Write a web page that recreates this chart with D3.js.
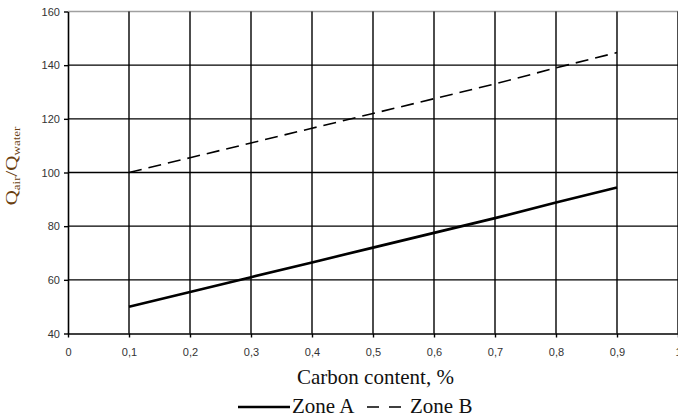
<!DOCTYPE html>
<html><head><meta charset="utf-8">
<script src="https://cdn.jsdelivr.net/npm/d3@7"></script>
<style>html,body{margin:0;padding:0;background:#fff;overflow:hidden}</style>
</head><body><svg id="c" width="678" height="418"></svg>
<script>
const carbon = [0.1, 0.2, 0.3, 0.4, 0.5, 0.6, 0.7, 0.8, 0.9];
const zoneA = [50, 55.5, 61, 66.5, 72, 77.5, 83, 88.8, 94.4];
const zoneB = [100, 105.5, 111, 116.5, 122, 127.5, 133, 139, 144.7];
const xTicks = [0, 0.1, 0.2, 0.3, 0.4, 0.5, 0.6, 0.7, 0.8, 0.9, 1];
const yTicks = [40, 60, 80, 100, 120, 140, 160];
const seriesNames = ["Zone A", "Zone B"];

const svg = d3.select("#c");
const x = d3.scaleLinear().domain([0, 1]).range([68, 678]);
const y = d3.scaleLinear().domain([40, 160]).range([333.5, 11.5]);

// horizontal grid
svg.append("g").selectAll("line").data(yTicks.filter(v => v > 40)).join("line")
  .attr("x1", x(0)).attr("x2", 678).attr("y1", d => y(d)).attr("y2", d => y(d))
  .attr("stroke", d => d === 160 ? "#a0a0a0" : "#000").attr("stroke-width", 1.4);
// vertical grid
svg.append("g").selectAll("line").data(xTicks.filter(v => v > 0)).join("line")
  .attr("x1", d => x(d)).attr("x2", d => x(d)).attr("y1", y(160)).attr("y2", y(40))
  .attr("stroke", "#000").attr("stroke-width", 1.4);

// axes
const xAxis = svg.append("g").attr("transform", `translate(0,${y(40)})`)
  .call(d3.axisBottom(x).tickValues(xTicks).tickSize(4).tickSizeOuter(0)
    .tickFormat(d => d === 0 ? "0" : d === 1 ? "1" : d3.format(".1f")(d).replace(".", ",")));
const yAxis = svg.append("g").attr("transform", `translate(${x(0)},0)`)
  .call(d3.axisLeft(y).tickValues(yTicks).tickSize(4).tickSizeOuter(0));
[xAxis, yAxis].forEach(g => {
  g.select(".domain").attr("stroke", "#000").attr("stroke-width", 1.6);
  g.selectAll(".tick line").attr("stroke", "#000").attr("stroke-width", 1.4);
  g.selectAll("text").attr("font-family", "Liberation Sans, Arial, sans-serif")
    .attr("font-size", 11).attr("fill", "#333");
});
xAxis.selectAll("text").attr("dy", "1.4em");
yAxis.selectAll("text").attr("dx", "-0.1em");

// lines
const line = d3.line().x(d => x(d[0])).y(d => y(d[1]));
svg.append("path").datum(carbon.map((c, i) => [c, zoneA[i]]))
  .attr("d", line).attr("fill", "none").attr("stroke", "#000").attr("stroke-width", 2.6);
svg.append("path").datum(carbon.map((c, i) => [c, zoneB[i]]))
  .attr("d", line).attr("fill", "none").attr("stroke", "#000").attr("stroke-width", 1.6)
  .attr("stroke-dasharray", "13,7");

// axis titles
svg.append("text").attr("x", 297).attr("y", 384)
  .attr("font-family", "Liberation Serif, Times New Roman, serif").attr("font-size", 21)
  .attr("fill", "#111").text("Carbon content, %");

const yl = svg.append("text").attr("transform", "translate(17,166) scale(0.75,1) rotate(-90)")
  .attr("text-anchor", "middle").attr("font-family", "Liberation Serif, Times New Roman, serif")
  .attr("font-size", 21).attr("fill", "#6a4010");
yl.append("tspan").text("Q");
yl.append("tspan").attr("font-size", 13).attr("dy", 4).text("air");
yl.append("tspan").attr("dy", -4).text("/Q");
yl.append("tspan").attr("font-size", 13).attr("dy", 4).text("water");

// legend
const lg = svg.append("g").attr("font-family", "Liberation Serif, Times New Roman, serif")
  .attr("font-size", 21).attr("fill", "#111");
lg.append("line").attr("x1", 238).attr("x2", 290).attr("y1", 407).attr("y2", 407)
  .attr("stroke", "#000").attr("stroke-width", 2.6);
lg.append("text").attr("x", 292).attr("y", 413).text(seriesNames[0]);
lg.append("line").attr("x1", 367).attr("x2", 401).attr("y1", 407).attr("y2", 407)
  .attr("stroke", "#000").attr("stroke-width", 1.4).attr("stroke-dasharray", "12,10");
lg.append("text").attr("x", 410).attr("y", 413).text(seriesNames[1]);
</script></body></html>
